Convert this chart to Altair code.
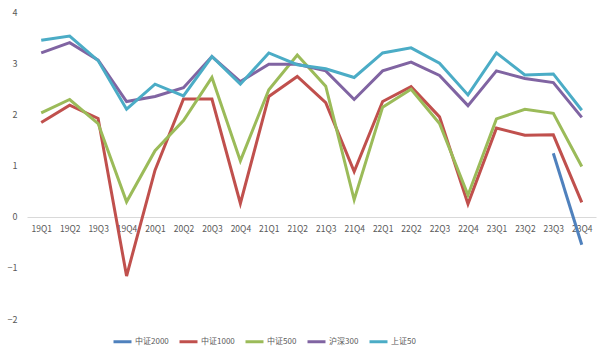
import altair as alt
import pandas as pd

quarters = ["19Q1","19Q2","19Q3","19Q4","20Q1","20Q2","20Q3","20Q4",
            "21Q1","21Q2","21Q3","21Q4","22Q1","22Q2","22Q3","22Q4",
            "23Q1","23Q2","23Q3","23Q4"]
series_names = ["中证2000", "中证1000", "中证500", "沪深300", "上证50"]
colors = ["#4F81BD", "#C0504D", "#9BBB59", "#8064A2", "#4BACC6"]

zz2000 = [None]*18 + [1.24, -0.55]
zz1000 = [1.84, 2.18, 1.92, -1.16, 0.91, 2.30, 2.30, 0.26,
          2.35, 2.74, 2.23, 0.88, 2.25, 2.54, 1.95, 0.25,
          1.73, 1.59, 1.60, 0.28]
zz500 = [2.03, 2.29, 1.82, 0.29, 1.29, 1.88, 2.72, 1.09,
         2.48, 3.16, 2.55, 0.33, 2.14, 2.49, 1.82, 0.42,
         1.91, 2.10, 2.02, 0.98]
hs300 = [3.20, 3.40, 3.06, 2.25, 2.35, 2.52, 3.13, 2.64,
         2.98, 2.98, 2.85, 2.29, 2.85, 3.02, 2.76, 2.17,
         2.85, 2.70, 2.62, 1.94]
sz50 = [3.45, 3.53, 3.05, 2.10, 2.59, 2.36, 3.13, 2.59,
        3.20, 2.97, 2.89, 2.72, 3.20, 3.30, 3.00, 2.38,
        3.20, 2.77, 2.79, 2.08]

rows = []
for name, vals in zip(series_names, [zz2000, zz1000, zz500, hs300, sz50]):
    for i, (q, v) in enumerate(zip(quarters, vals)):
        if v is not None:
            rows.append({"季度": q, "系列": name, "值": v, "序": series_names.index(name)})
df = pd.DataFrame(rows)

font = "Noto Sans CJK SC"

chart = alt.Chart(df).mark_line(strokeWidth=3).encode(
    x=alt.X("季度:N", sort=quarters, title=None,
            scale=alt.Scale(padding=0.5),
            axis=alt.Axis(offset=-102, labelAngle=0, ticks=False, domainColor="#D9D9D9",
                          domainWidth=1, labelColor="#595959", labelFontSize=8.5,
                          labelPadding=7, labelFont=font)),
    y=alt.Y("值:Q", title=None,
            scale=alt.Scale(domain=[-2, 4], nice=False),
            axis=alt.Axis(values=[-2, -1, 0, 1, 2, 3, 4], grid=False, domain=False, ticks=False,
                          labelColor="#595959", labelFontSize=9, labelPadding=10,
                          labelFont=font)),
    color=alt.Color("系列:N", sort=series_names,
                    scale=alt.Scale(domain=series_names, range=colors),
                    legend=alt.Legend(orient="none", direction="horizontal", legendX=85, legendY=319,
                                      title=None, symbolType="stroke", symbolSize=324,
                                      symbolStrokeWidth=3, labelFontSize=8, labelColor="#595959",
                                      labelFont=font, columnPadding=4, labelOffset=2)),
    detail="序:O",
    order="序:O",
).properties(
    width=569, height=307,
    padding={"left": 27, "top": 12, "right": 18, "bottom": 33},
    autosize=alt.AutoSizeParams(type="none"),
).configure_view(stroke=None)

chart.save("out.html", embed_options={"renderer": "svg", "actions": False})
